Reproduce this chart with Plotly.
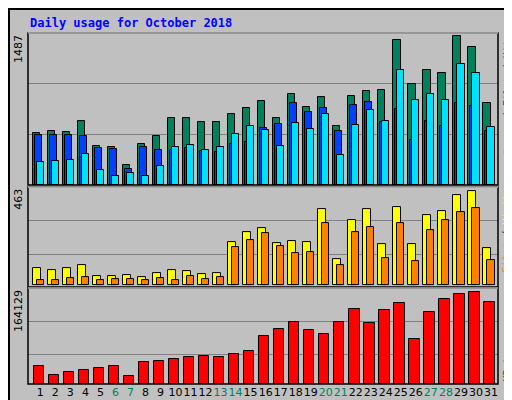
import plotly.graph_objects as go

days = list(range(1, 32))
hits = [519,539,529,638,390,380,202,410,489,667,667,628,628,707,767,836,667,905,777,876,588,886,935,945,1441,1005,1143,1114,1487,1371,816]
files = [499,499,499,489,370,360,162,380,350,350,370,340,330,410,430,568,608,816,727,767,539,796,826,628,757,449,638,588,816,786,539]
pages = [231,241,251,311,152,93,122,93,192,380,400,350,380,509,588,548,390,618,558,707,301,598,747,638,1143,846,905,846,1203,1114,578]
sites = [81,75,81,96,45,45,50,40,60,75,70,55,60,211,262,282,206,216,211,372,126,317,372,201,382,201,342,362,443,463,181]
visits = [25,25,35,40,25,30,30,25,35,25,45,30,40,186,221,257,191,156,161,302,96,262,287,131,302,116,272,317,357,377,121]
kbytes = [32466,16233,21644,25251,28858,32466,14429,39680,41483,45091,48698,50502,48698,54109,59520,86575,99200,111825,97397,90182,111825,133469,110022,131665,144290,81164,128058,151504,160522,164129,146094]
weekend = {6,7,13,14,20,21,27,28}

BG = "#C0C0C0"
fig = go.Figure()
line = dict(color="black", width=1)

def bar(y, color, off, w, axis):
    fig.add_trace(go.Bar(x=days, y=y, marker=dict(color=color, line=line),
                         offset=off, width=w, xaxis="x", yaxis=axis, showlegend=False))

bar(hits, "#00805C", -0.51, 0.49, "y")
bar(files, "#0040FF", -0.38, 0.49, "y")
bar(pages, "#00E0FF", -0.25, 0.49, "y")
bar(sites, "#FFFF00", -0.51, 0.53, "y2")
bar(visits, "#FF8000", -0.25, 0.49, "y2")
bar(kbytes, "#FF0000", -0.44, 0.69, "y3")

ticktext = [f"<span style='color:{'#00805C' if d in weekend else 'black'}'>{d}</span>" for d in days]

R1, R2, R3 = 1513, 481, 171900
yax = dict(showticklabels=False, ticks="", showgrid=True, gridcolor="#808080", gridwidth=1,
           zeroline=False, showline=False, fixedrange=True, automargin=False)
fig.update_layout(
    width=512, height=400, paper_bgcolor=BG, plot_bgcolor=BG,
    margin=dict(l=20, r=22, t=25, b=24, autoexpand=False), barmode="overlay", bargap=0,
    font=dict(family="DejaVu Sans", size=11, color="black"),
    xaxis=dict(range=[0.18, 31.47], tickvals=days, ticktext=ticktext, ticks="", tickangle=0,
               showgrid=False, zeroline=False, anchor="y3", automargin=False,
               tickfont=dict(size=11)),
    yaxis=dict(domain=[0.567, 1], range=[0, R1], tickvals=[R1/3, 2*R1/3], **yax),
    yaxis2=dict(domain=[0.276, 0.561], range=[-10, R2], tickvals=[151, 317], **yax),
    yaxis3=dict(domain=[0, 0.2735], range=[0, R3], tickvals=[52300, 111900], **yax),
)

shapes = [
    dict(type="rect", xref="paper", yref="paper", x0=-19/470, x1=491/470, y0=-23/351, y1=375/351,
         line=dict(color="black", width=2), layer="below"),
]
for d0, d1 in [(0.567, 1), (0.276, 0.561), (0, 0.2735)]:
    shapes.append(dict(type="rect", xref="paper", yref="paper", x0=0, x1=1, y0=d0, y1=d1,
                       line=dict(color="black", width=1.5)))
    shapes.append(dict(type="line", xref="paper", yref="paper", x0=0, x1=1, y0=d1, y1=d1,
                       line=dict(color="white", width=1)))
fig.update_layout(shapes=shapes)

mono = "DejaVu Sans Mono"
ann = [
    dict(text="<b>Daily usage for October 2018</b>", x=0, y=1.028, xref="paper", yref="paper",
         xanchor="left", yanchor="middle", showarrow=False,
         font=dict(family=mono, size=12, color="#0000FF")),
    dict(text="1487", x=-0.003, y=1, xref="paper", yref="paper", xanchor="right", yanchor="top",
         textangle=-90, showarrow=False, font=dict(size=11)),
    dict(text="463", x=-0.003, y=0.561, xref="paper", yref="paper", xanchor="right", yanchor="top",
         textangle=-90, showarrow=False, font=dict(size=11)),
    dict(text="164129", x=-0.003, y=0.2735, xref="paper", yref="paper", xanchor="right", yanchor="top",
         textangle=-90, showarrow=False, font=dict(size=11)),
    dict(text="<span style='color:#00E0FF'>Pages</span> / <span style='color:#0040FF'>Files</span> / <span style='color:#00805C'>Hits</span>",
         x=1.0, y=1, xref="paper", yref="paper", xanchor="left", yanchor="top", xshift=1,
         textangle=-90, showarrow=False, font=dict(family=mono, size=10, color="#404040")),
    dict(text="<span style='color:#FF8000'>Sites</span> / <span style='color:#FFFF00'>Visits</span>",
         x=1.0, y=0.561, xref="paper", yref="paper", xanchor="left", yanchor="top", xshift=1,
         textangle=-90, showarrow=False, font=dict(family=mono, size=10, color="#404040")),
    dict(text="<span style='color:#FF0000'>KBytes</span>",
         x=1.0, y=0, xref="paper", yref="paper", xanchor="left", yanchor="bottom", xshift=1,
         textangle=-90, showarrow=False, font=dict(family=mono, size=10)),
]
fig.update_layout(annotations=ann)
fig.write_html("out.html")
